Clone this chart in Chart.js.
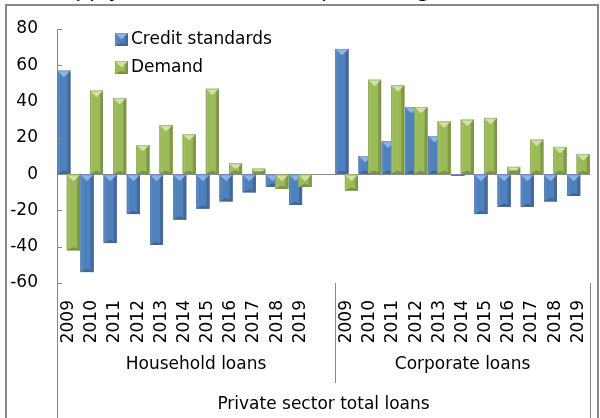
<!DOCTYPE html>
<html>
<head>
<meta charset="utf-8">
<script src="https://cdn.jsdelivr.net/npm/chart.js@4.4.1/dist/chart.umd.min.js"></script>
<style>
  html, body { margin: 0; padding: 0; background: #fff; }
  #page { position: relative; width: 600px; height: 418px; overflow: hidden; }
  #titre { position: absolute; right: 137px; top: -20px; font: 21.5px 'DejaVu Sans'; line-height: 20px; white-space: nowrap; color: #000; }
  #cadre { position: absolute; left: 5px; top: 4px; width: 590px; height: 430px; border: 2px solid #898989; }
  #zone { position: absolute; left: 0; top: 0; }
</style>
</head>
<body>
<div id="page">
  <div id="titre">Credit supply and demand (net percentages)</div>
  <div id="cadre"></div>
  <canvas id="zone" width="600" height="418"></canvas>
</div>
<script>
// années et valeurs (pourcentages nets)
const anneesMenages = ['2009', '2010', '2011', '2012', '2013', '2014', '2015', '2016', '2017', '2018', '2019'];
const anneesEntreprises = ['2009', '2010', '2011', '2012', '2013', '2014', '2015', '2016', '2017', '2018', '2019'];
const creditMenages = [57, -54, -38, -22, -39, -25, -19, -15, -10, -7, -17];
const demandeMenages = [-42, 46, 42, 16, 27, 22, 47, 6, 3, -8, -7];
const creditEntreprises = [69, 10, 18, 37, 21, -1, -22, -18, -18, -15, -12];
const demandeEntreprises = [-9, 52, 49, 37, 29, 30, 31, 4, 19, 15, 11];
const groupes = ['Household loans', 'Corporate loans'];
const titreAxe = 'Private sector total loans';
const nomsSeries = ['Credit standards', 'Demand'];

// une catégorie vide sépare les deux groupes
const labels = [...anneesMenages, '', ...anneesEntreprises];
const credit = [...creditMenages, null, ...creditEntreprises];
const demande = [...demandeMenages, null, ...demandeEntreprises];

const couleurs = [
    { fond: '#4F81BD', haut: '#8EB4E3', gauche: '#5A8CC8', droite: '#41699B', bas: '#3D6494' },
    { fond: '#9BBB59', haut: '#D0E2A4', gauche: '#A5C464', droite: '#809C48', bas: '#7A9440' }
];

Chart.defaults.font.family = 'DejaVu Sans';
Chart.defaults.font.size = 17;
Chart.defaults.color = '#000';

function poly(ctx, pts, couleur) {
    ctx.beginPath();
    ctx.moveTo(pts[0][0], pts[0][1]);
    for (let i = 1; i < pts.length; i++) ctx.lineTo(pts[i][0], pts[i][1]);
    ctx.closePath();
    ctx.fillStyle = couleur;
    ctx.fill();
}

// effet biseau comme dans Excel : triangle clair en haut, bords plus foncés
function biseau(ctx, l, t, r, b, c) {
    const w = r - l, h = b - t;
    if (h < 0.5) return;
    const e = Math.min(w / 2, h / 2, 6);
    const s = Math.min(3, w / 4);
    ctx.fillStyle = c.fond;
    ctx.fillRect(l, t, w, h);
    ctx.fillStyle = c.gauche;
    ctx.fillRect(l, t, 2, h);
    ctx.fillStyle = c.droite;
    ctx.fillRect(r - s, t, s, h);
    poly(ctx, [[l, b], [l + e, b - Math.min(e, 3)], [r - e, b - Math.min(e, 3)], [r, b]], c.bas);
    poly(ctx, [[l, t], [r, t], [r - e, t + e], [l + e, t + e]], c.haut);
    ctx.strokeStyle = 'rgba(110,110,110,0.3)';
    ctx.lineWidth = 1;
    ctx.strokeRect(l + 0.5, t + 0.5, w - 1, h - 1);
}

const relief = {
    id: 'relief',
    afterDatasetsDraw(chart) {
        const ctx = chart.ctx;
        ctx.save();
        chart.data.datasets.forEach((ds, i) => {
            const meta = chart.getDatasetMeta(i);
            meta.data.forEach((bar, j) => {
                if (ds.data[j] === null) return;
                const p = bar.getProps(['x', 'y', 'base', 'width'], true);
                biseau(ctx, p.x - p.width / 2, Math.min(p.y, p.base), p.x + p.width / 2, Math.max(p.y, p.base), couleurs[i]);
            });
        });
        ctx.restore();
    }
};

const axes = {
    id: 'axes',
    afterDraw(chart) {
        const ctx = chart.ctx;
        const area = chart.chartArea;
        const xs = chart.scales.x, ys = chart.scales.y;
        const bas = chart.height;
        ctx.save();
        ctx.strokeStyle = '#888';
        ctx.lineWidth = 1;
        // petits traits vers l'intérieur sur l'axe des y
        ys.ticks.forEach(t => {
            const y = Math.round(ys.getPixelForValue(t.value)) + 0.5;
            ctx.beginPath();
            ctx.moveTo(area.left, y);
            ctx.lineTo(area.left + 5, y);
            ctx.stroke();
        });
        // lignes verticales de l'axe à plusieurs niveaux
        const sep = (xs.getPixelForTick(anneesMenages.length) + xs.getPixelForTick(anneesMenages.length + 1)) / 2;
        const traits = [[area.left, bas], [sep, area.bottom + 100], [area.right, bas]];
        traits.forEach(([x, fin]) => {
            const xx = Math.round(x) + 0.5;
            ctx.beginPath();
            ctx.moveTo(xx, area.bottom);
            ctx.lineTo(xx, fin);
            ctx.stroke();
        });
        ctx.fillStyle = '#000';
        ctx.font = '17px DejaVu Sans';
        ctx.textAlign = 'center';
        ctx.textBaseline = 'middle';
        ctx.fillText(groupes[0], (area.left + sep) / 2, area.bottom + 82);
        ctx.fillText(groupes[1], (sep + area.right) / 2, area.bottom + 82);
        ctx.fillText(titreAxe, (area.left + area.right) / 2, area.bottom + 122);
        // légende
        nomsSeries.forEach((nom, i) => {
            const lx = area.left + 58, ly = area.top + 4 + i * 28;
            biseau(ctx, lx, ly, lx + 13, ly + 13, couleurs[i]);
            ctx.fillStyle = '#000';
            ctx.textAlign = 'left';
            ctx.fillText(nom, lx + 16, ly + 7);
        });
        ctx.restore();
    }
};

new Chart(document.getElementById('zone'), {
    type: 'bar',
    data: {
        labels: labels,
        datasets: [
            { label: nomsSeries[0], data: credit, backgroundColor: couleurs[0].fond, categoryPercentage: 0.82, barPercentage: 1.37 },
            { label: nomsSeries[1], data: demande, backgroundColor: couleurs[1].fond, categoryPercentage: 0.82, barPercentage: 1.37 }
        ]
    },
    options: {
        responsive: false,
        animation: false,
        layout: { padding: { top: 29, right: 10, left: 0, bottom: 0 } },
        plugins: { legend: { display: false }, tooltip: { enabled: false } },
        scales: {
            x: {
                afterFit(scale) {
                    scale.height = 135;
                    scale.paddingLeft = 0;
                    scale.paddingRight = 0;
                },
                grid: { display: false },
                border: { display: false },
                ticks: { autoSkip: false, minRotation: 90, maxRotation: 90, padding: 9 }
            },
            y: {
                min: -60,
                max: 80,
                afterFit(scale) {
                    scale.width = 57;
                    scale.paddingTop = 0;
                },
                border: { color: '#888' },
                grid: {
                    drawTicks: false,
                    color: ctx => ctx.tick && ctx.tick.value === 0 ? '#888' : 'rgba(0,0,0,0)'
                },
                ticks: { stepSize: 20, padding: 19 }
            }
        }
    },
    plugins: [relief, axes]
});
</script>
</body>
</html>
